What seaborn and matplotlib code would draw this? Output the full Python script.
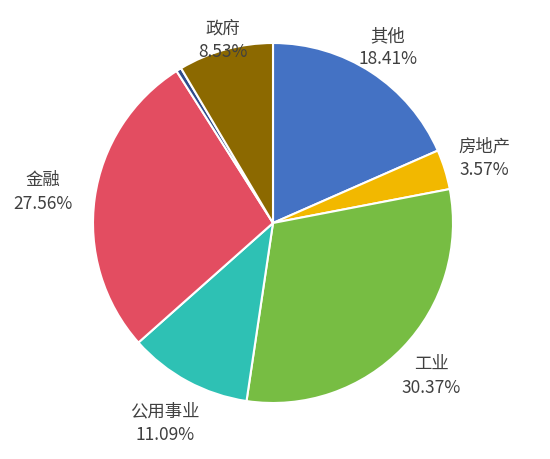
import numpy as np
import matplotlib
matplotlib.use("Agg")
import matplotlib.pyplot as plt
import seaborn as sns

categories = ["其他", "房地产", "工业", "公用事业", "金融", "", "政府"]
values = [18.41, 3.57, 30.37, 11.09, 27.56, 0.47, 8.53]
colors = ["#4472C4", "#F2B800", "#77BD43", "#2EC1B4", "#E34D61", "#2F4B8C", "#8C6900"]
label_dist = [1.17, 1.23, 1.22, 1.26, 1.29, 1.1, 1.06]

sns.set_theme(style="white")
plt.rcParams['font.family'] = ['Noto Sans CJK SC', 'DejaVu Sans']

fig = plt.figure(figsize=(5.5, 4.6), dpi=100)
ax = fig.add_axes([0, 0, 1, 1])
R = 180
cx, cy = 273, 460 - 224
wedges, _ = ax.pie(values, colors=colors, startangle=90, counterclock=False,
                   radius=R, center=(cx, cy),
                   wedgeprops=dict(edgecolor="white", linewidth=1.5))
for w, name, v, d in zip(wedges, categories, values, label_dist):
    if not name:
        continue
    th = np.deg2rad((w.theta1 + w.theta2) / 2)
    x = cx + R * d * np.cos(th)
    y = cy + R * d * np.sin(th)
    ax.text(x, y, f"{name}\n{v:.2f}%", ha="center", va="center",
            fontsize=12.5, color="#404040", linespacing=1.4)
ax.set_xlim(0, 550)
ax.set_ylim(0, 460)
ax.set_aspect("equal")
ax.axis("off")
fig.savefig("out.png", dpi=100, facecolor="white")
